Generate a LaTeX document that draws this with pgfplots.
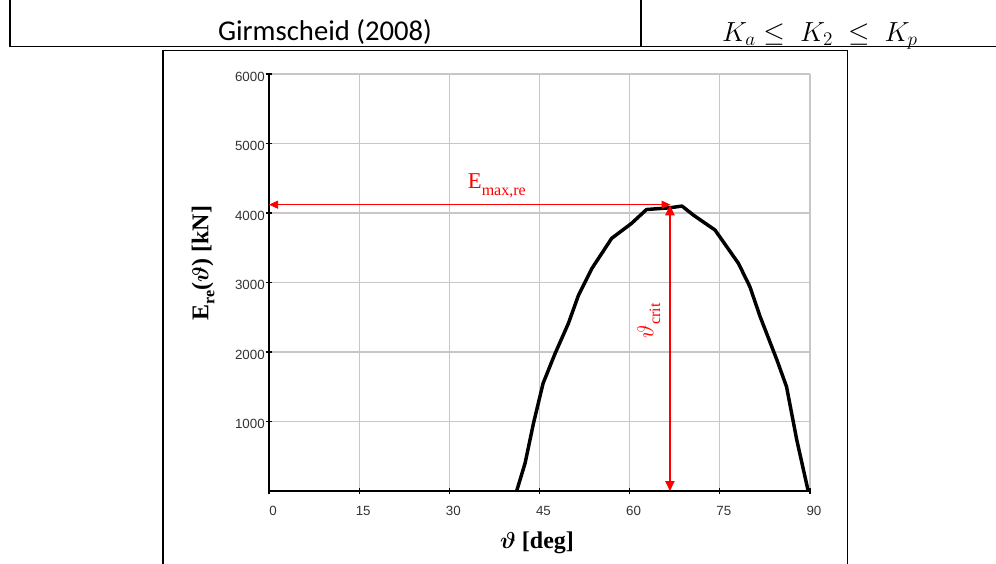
\documentclass[border=0pt]{standalone}
\usepackage{amsmath}
\usepackage{fontspec}
\setmainfont{Liberation Serif}
\newfontfamily\arialf{Liberation Sans}
\newfontfamily\calibri{Carlito}
\usepackage{pgfplots}
\pgfplotsset{compat=1.18}
\usetikzlibrary{arrows.meta}

\begin{document}
\begin{tikzpicture}
% page frame in pixel units (y downwards)
\begin{scope}[x=0.75pt, y=-0.75pt]
\useasboundingbox (0,0) rectangle (996,564);
\draw[line width=1pt] (10,0) -- (10,46.5);
\draw[line width=1pt] (641,0) -- (641,46.5);
\draw[line width=1.1pt] (10,46.5) -- (996,46.5);
\draw[line width=1.2pt] (163,570) -- (163,50.5) -- (847.5,50.5) -- (847.5,570);
\node[anchor=base, font=\calibri\fontsize{21.5}{24}\selectfont] at (325,40) {Girmscheid (2008)};
\node[anchor=base, font=\fontsize{22}{26}\selectfont] at (820,41) {$K_a \leq\ K_2\ \leq\ K_p$};
\node[font=\bfseries\fontsize{18}{20}\selectfont] at (537,543) {$\boldsymbol{\vartheta}$ [deg]};
\node[rotate=90, font=\bfseries\fontsize{18}{20}\selectfont] at (203,263)
  {E\raisebox{-0.25em}{\fontsize{12}{12}\selectfont re}($\boldsymbol{\vartheta}$) [kN]};
\end{scope}

\begin{axis}[
    at={(269*0.75pt,-491*0.75pt)}, anchor=south west,
    scale only axis,
    width=405.75pt, height=312.75pt,
    xmin=0, xmax=90, ymin=0, ymax=6000,
    xtick={0,15,...,90},
    ytick={1000,2000,...,6000},
    grid=major,
    major grid style={black!22, line width=0.8pt},
    axis x line=bottom, axis y line=left,
    axis line style={-, line width=0.9pt},
    tick align=center,
    major tick length=5pt,
    tick style={black, line width=0.9pt},
    ticklabel style={font=\arialf\fontsize{10}{12}\selectfont, text=black!80},
    /pgf/number format/assume math mode=true,
    /pgf/number format/1000 sep={},
    scaled y ticks=false,
    xticklabel style={anchor=north, inner sep=0pt, yshift=-9pt, xshift=3pt},
    yticklabel style={anchor=east, inner sep=0pt, xshift=-0.5pt, yshift=-2pt},
    clip=false,
]
\addplot[black, line width=2.6pt, line join=round] coordinates {
    (41.2,0) (42.6,400) (44.0,975) (45.6,1550) (47.6,1980) (49.8,2410)
    (51.5,2820) (53.7,3200) (57.0,3635) (60.3,3850) (62.8,4050) (65.1,4065)
    (66.7,4075) (68.7,4100) (70.6,3970) (74.2,3755) (78.1,3275) (80.0,2940)
    (81.7,2510) (84.5,1885) (86.1,1500) (87.8,735) (89.7,0)
};
% E_max,re and theta_crit
\addplot[red, line width=0.7pt,
    {Triangle[length=6.75pt,width=6pt]}-{Triangle[length=6.75pt,width=6pt]}]
    coordinates {(0,4120) (66.8,4120)};
\addplot[red, line width=1.1pt,
    {Triangle[length=7.5pt,width=7pt]}-{Triangle[length=7.5pt,width=7pt]}]
    coordinates {(66.7,0) (66.7,4110)};
\node[red, font=\fontsize{17}{20}\selectfont] at (axis cs:37.9,4390)
    {E\raisebox{-0.3em}{\fontsize{12}{12}\selectfont max,re}};
\node[red, rotate=90, font=\fontsize{17}{20}\selectfont] at (axis cs:63.2,2450)
    {$\vartheta$\raisebox{-0.3em}{\fontsize{12}{12}\selectfont crit}};
\end{axis}
\end{tikzpicture}
\end{document}
